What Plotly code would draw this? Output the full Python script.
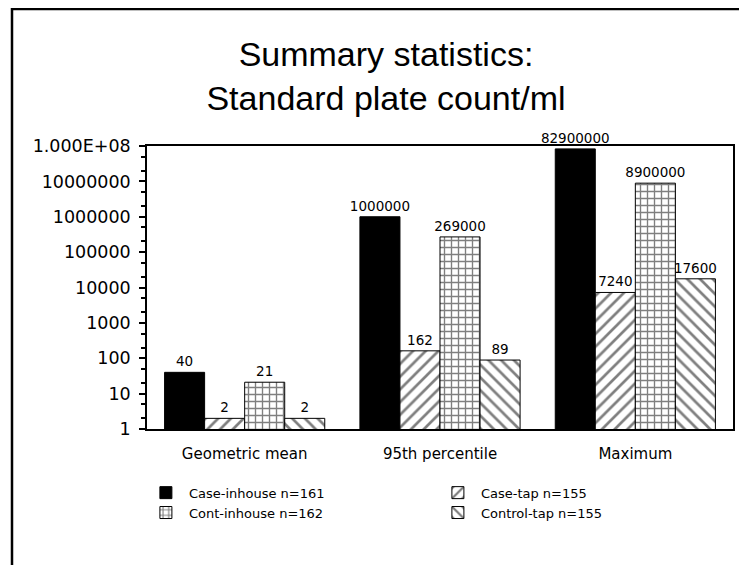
import plotly.graph_objects as go

categories = ["Geometric mean", "95th percentile", "Maximum"]
series_names = ["Case-inhouse n=161", "Case-tap n=155", "Cont-inhouse n=162", "Control-tap n=155"]
case_inhouse = [40, 1000000, 82900000]
case_tap = [2, 162, 7240]
cont_inhouse = [21, 269000, 8900000]
control_tap = [2, 89, 17600]
tick_vals = [1, 10, 100, 1000, 10000, 100000, 1000000, 10000000, 100000000]
tick_text = ["1", "10", "100", "1000", "10000", "100000", "1000000", "10000000", "1.000E+08"]

values = [case_inhouse, case_tap, cont_inhouse, control_tap]
styles = [
    dict(color="black", marker_pattern=None),
    dict(color="white", marker_pattern=dict(shape="/", fgcolor="black", bgcolor="white", size=9, solidity=0.3)),
    dict(color="white", marker_pattern=dict(shape="+", fgcolor="black", bgcolor="white", size=7, solidity=0.35)),
    dict(color="white", marker_pattern=dict(shape="\\", fgcolor="black", bgcolor="white", size=9, solidity=0.3)),
]

FONT = "DejaVu Sans"
TFONT = "Liberation Sans"
fig = go.Figure()
for name, vals, st in zip(series_names, values, styles):
    marker = dict(color=st["color"], line=dict(color="black", width=1))
    if st["marker_pattern"]:
        marker["pattern"] = st["marker_pattern"]
    fig.add_trace(go.Bar(
        x=categories, y=vals, name=name, marker=marker,
        text=[str(v) for v in vals], textposition="outside",
        textfont=dict(family=FONT, size=13.5, color="black"),
        constraintext="none", cliponaxis=False,
    ))

# page body adds an 8px offset; figure coordinates compensate for it
W, H = 747, 565
L, R, T, B = 139, 22, 138, 144
pw, ph = W - L - R, H - T - B

fig.update_layout(
    width=W, height=H,
    margin=dict(l=L, r=R, t=T, b=B, autoexpand=False),
    paper_bgcolor="white", plot_bgcolor="white",
    barmode="group", bargap=0.18, bargroupgap=0,
    font=dict(family=FONT, color="black"),
    title=dict(text="Summary statistics:<br>Standard plate count/ml",
               x=378 / W, xanchor="center", y=1 - 58 / H, yanchor="middle",
               font=dict(family=TFONT, size=34, color="black")),
    showlegend=True,
    legend=dict(orientation="h", x=-0.007, xanchor="left", y=-0.172, yanchor="top",
                entrywidth=241, entrywidthmode="pixels",
                font=dict(family=FONT, size=13, color="black"),
                itemwidth=36),
    xaxis=dict(showline=True, linecolor="black", linewidth=1.5, mirror=True,
               ticks="", ticklabelstandoff=10,
               tickfont=dict(family=FONT, size=15, color="black")),
    yaxis=dict(type="log", range=[0, 8], showline=True, linecolor="black", linewidth=1.5,
               mirror=True, showgrid=False, tickvals=tick_vals, ticktext=tick_text,
               ticks="outside", ticklen=6, tickwidth=2, tickcolor="black",
               ticklabelstandoff=5,
               tickfont=dict(family=FONT, size=17.5, color="black"),
               minor=dict(ticks="outside", ticklen=4, tickcolor="black", showgrid=False)),
)

# outer frame around the whole figure
fig.add_shape(type="rect", xref="paper", yref="paper",
              x0=(4 - L) / pw, x1=(780 - L) / pw,
              y0=(H - B - 590) / ph, y1=(H - B - 1) / ph,
              line=dict(color="black", width=2.5), fillcolor="rgba(0,0,0,0)", layer="below")

fig.write_html("out.html")
